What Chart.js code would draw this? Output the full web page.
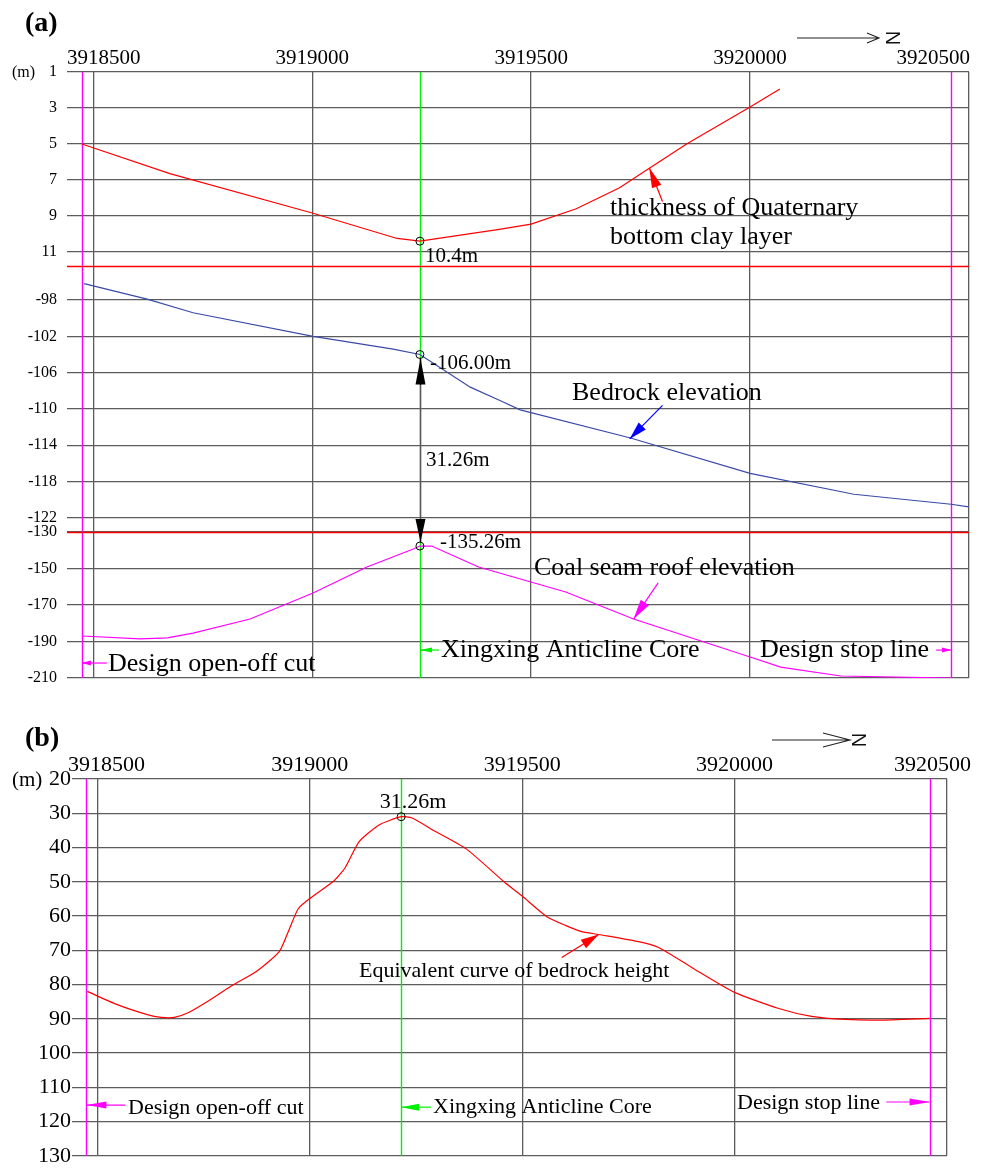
<!DOCTYPE html>
<html>
<head>
<meta charset="utf-8">
<script src="https://cdn.jsdelivr.net/npm/chart.js@4.4.0/dist/chart.umd.min.js"></script>
<style>
  body { margin: 0; background: #fff; }
  #chartA { position: absolute; left: 0; top: 0; }
  #chartB { position: absolute; left: 0; top: 700px; }
</style>
</head>
<body>
<canvas id="chartA" width="986" height="700"></canvas>
<canvas id="chartB" width="986" height="470"></canvas>
<script>
// northing axis (shared by both panels)
const xRange = [3918440, 3920500];
const northTicks = [3918500, 3919000, 3919500, 3920000, 3920500];
const openOffX = 3918474;
const stopLineX = 3920459;
const coreXa = 3919246;
const coreXb = 3919215;

// (a) thickness of Quaternary bottom clay layer (m)
const clayRange = [1, 11.78];
const clayTicks = [1, 3, 5, 7, 9, 11];
const clayX = [3918474, 3918675, 3919002, 3919194, 3919246, 3919427, 3919500, 3919603, 3919701, 3919770, 3919855, 3920000, 3920068];
const clayY = [5.0, 6.65, 8.85, 10.25, 10.4, 9.75, 9.45, 8.6, 7.45, 6.35, 5.0, 2.95, 1.95];
const clayMark = 10.4;

// (a) bedrock elevation (m)
const bedRange = [-123.56, -94.25];
const bedTicks = [-98, -102, -106, -110, -114, -118, -122];
const bedX = [3918479, 3918623, 3918728, 3919002, 3919185, 3919246, 3919361, 3919430, 3919475, 3919727, 3920000, 3920237, 3920459, 3920500];
const bedY = [-96.2, -97.9, -99.4, -102.0, -103.4, -104.0, -107.6, -109.1, -110.1, -113.2, -117.1, -119.4, -120.5, -120.8];
const bedMark = -104.0;

// (a) coal seam roof elevation (m)
const coalRange = [-210, -130];
const coalTicks = [-130, -150, -170, -190, -210];
const coalX = [3918474, 3918607, 3918669, 3918728, 3918858, 3919002, 3919125, 3919231, 3919246, 3919273, 3919380, 3919579, 3919734, 3920000, 3920070, 3920207, 3920459];
const coalY = [-187.0, -188.6, -188.0, -185.4, -177.7, -163.4, -149.2, -139.3, -137.7, -137.7, -149.2, -162.9, -177.7, -198.5, -204.0, -208.9, -210.0];
const coalMark = -137.7;

// (b) equivalent curve of bedrock height (m)
const equivRange = [20, 130];
const equivTicks = [20, 30, 40, 50, 60, 70, 80, 90, 100, 110, 120, 130];
const equivX = [3918476, 3918545, 3918615, 3918650, 3918681, 3918716, 3918756, 3918817, 3918874, 3918928, 3918951, 3918973, 3919003, 3919057, 3919083, 3919116, 3919163, 3919215, 3919241, 3919288, 3919368, 3919457, 3919499, 3919558, 3919603, 3919638, 3919680, 3919774, 3919821, 3919899, 3920000, 3920104, 3920181, 3920261, 3920339, 3920459];
const equivY = [82.0, 85.8, 88.7, 89.6, 89.6, 88.1, 85.2, 80.3, 76.2, 70.4, 64.0, 57.8, 54.6, 49.7, 45.9, 38.3, 33.4, 31.0, 31.4, 34.8, 40.4, 50.0, 54.1, 60.2, 62.8, 64.5, 65.4, 67.5, 69.2, 75.0, 82.3, 87.0, 89.3, 90.2, 90.4, 89.9];
const equivMark = 31.0;

const SERIF = "'Liberation Serif', 'Times New Roman', serif";
const SANS = "'Liberation Sans', Arial, sans-serif";
const GRID = '#5c5c5c';

function pts(xs, ys) {
  return xs.map((x, i) => ({ x: x, y: ys[i] }));
}

// force the ticks to exactly the listed values
function fixTicks(list) {
  return axis => { axis.ticks = list.map(v => ({ value: v })); };
}

function drawArrow(ctx, x1, y1, x2, y2, color, len, hw) {
  const ang = Math.atan2(y2 - y1, x2 - x1);
  ctx.strokeStyle = color;
  ctx.fillStyle = color;
  ctx.lineWidth = 1.2;
  ctx.beginPath(); ctx.moveTo(x1, y1); ctx.lineTo(x2, y2); ctx.stroke();
  const bx = x2 - len * Math.cos(ang), by = y2 - len * Math.sin(ang);
  const nx = -Math.sin(ang) * hw, ny = Math.cos(ang) * hw;
  ctx.beginPath();
  ctx.moveTo(x2, y2); ctx.lineTo(bx + nx, by + ny); ctx.lineTo(bx - nx, by - ny);
  ctx.closePath(); ctx.fill();
}

// extra drawing: marker lines, top tick labels, leaders, texts, north arrow
const decor = {
  id: 'decor',
  beforeDatasetsDraw(chart, args, o) {
    const { ctx, chartArea: a, scales } = chart;
    ctx.save();
    ctx.lineWidth = 1.4;
    o.vlines.forEach(v => {
      const px = Math.round(scales.x.getPixelForValue(v.x)) + 0.5;
      ctx.strokeStyle = v.color;
      ctx.beginPath(); ctx.moveTo(px, a.top); ctx.lineTo(px, a.bottom); ctx.stroke();
    });
    (o.redTops || []).forEach(id => {
      const y = Math.round(scales[id].top) + 0.5;
      ctx.strokeStyle = '#ff0000';
      ctx.beginPath(); ctx.moveTo(a.left, y); ctx.lineTo(a.right, y); ctx.stroke();
    });
    if (o.dim) {
      const d = o.dim;
      const px = Math.round(scales.x.getPixelForValue(d.x)) + 0.5;
      const yt = scales[d.top[1]].getPixelForValue(d.top[0]) + 4;
      const yb = scales[d.bottom[1]].getPixelForValue(d.bottom[0]) - 4;
      ctx.strokeStyle = '#555';
      ctx.beginPath(); ctx.moveTo(px, yt); ctx.lineTo(px, yb); ctx.stroke();
      drawArrow(ctx, px, yt + 26, px, yt, '#000', 26, 5);
      drawArrow(ctx, px, yb - 23, px, yb, '#000', 23, 5);
    }
    ctx.restore();
  },
  afterDraw(chart, args, o) {
    const { ctx, chartArea: a, scales } = chart;
    ctx.save();
    // northing labels along the top
    const xl = o.xLabels;
    ctx.font = xl.size + 'px ' + SERIF;
    ctx.fillStyle = '#000';
    ctx.textAlign = 'center';
    ctx.textBaseline = 'middle';
    northTicks.forEach(v => {
      const label = String(v);
      const w = ctx.measureText(label).width;
      let cx = scales.x.getPixelForValue(v);
      cx = Math.max(cx, a.left + xl.padL + w / 2);
      cx = Math.min(cx, a.right + xl.padR - w / 2);
      ctx.fillText(label, cx, xl.y);
    });
    // leaders
    o.arrows.forEach(r => {
      const ys = scales[r.axis];
      drawArrow(ctx,
        scales.x.getPixelForValue(r.from[0]), ys.getPixelForValue(r.from[1]),
        scales.x.getPixelForValue(r.to[0]), ys.getPixelForValue(r.to[1]),
        r.color, r.len, r.hw);
    });
    // texts
    o.texts.forEach(t => {
      ctx.font = (t.bold ? 'bold ' : '') + t.size + 'px ' + SERIF;
      ctx.fillStyle = '#000';
      ctx.textAlign = t.align || 'left';
      ctx.textBaseline = 'middle';
      ctx.fillText(t.t, t.x, t.y);
    });
    // north arrow
    const n = o.north;
    ctx.strokeStyle = '#222';
    ctx.lineWidth = 1.1;
    ctx.beginPath();
    ctx.moveTo(n.x1, n.y); ctx.lineTo(n.x2, n.y);
    ctx.moveTo(n.x2 - n.head, n.y - n.hw); ctx.lineTo(n.x2, n.y); ctx.lineTo(n.x2 - n.head, n.y + n.hw);
    ctx.stroke();
    ctx.translate(n.nx, n.y);
    ctx.rotate(Math.PI / 2);
    ctx.font = '20px ' + SANS;
    ctx.fillStyle = '#111';
    ctx.textAlign = 'center';
    ctx.textBaseline = 'middle';
    ctx.fillText('N', 0, 1);
    ctx.restore();
  }
};

function xAxis(height) {
  return {
    type: 'linear', position: 'top', min: xRange[0], max: xRange[1],
    afterBuildTicks: fixTicks(northTicks),
    afterFit: s => { s.height = height; },
    grid: { color: GRID, lineWidth: 1.3, drawTicks: false },
    border: { display: false },
    ticks: { display: false, autoSkip: false }
  };
}

function yAxis(range, ticks, width, size, pad, extra) {
  return Object.assign({
    type: 'linear', position: 'left', min: range[0], max: range[1],
    afterBuildTicks: fixTicks(ticks),
    afterFit: s => { s.width = width; },
    grid: { color: GRID, lineWidth: 1.3, drawTicks: false },
    border: { display: false },
    ticks: { color: '#000', font: { family: SERIF, size: size }, padding: pad, autoSkip: false }
  }, extra);
}

function lineSet(xs, ys, axis, color, tension) {
  return {
    data: pts(xs, ys), yAxisID: axis, showLine: true, borderColor: color,
    backgroundColor: color, borderWidth: 1.2, pointRadius: 0, tension: tension || 0, order: 2
  };
}

function markSet(x, y, axis) {
  return {
    data: [{ x: x, y: y }], yAxisID: axis, showLine: false, pointRadius: 4,
    borderColor: '#000', backgroundColor: 'rgba(0,0,0,0)',
    pointBorderColor: '#000', pointBackgroundColor: 'rgba(0,0,0,0)', pointBorderWidth: 1, order: 1
  };
}

new Chart(document.getElementById('chartA'), {
  type: 'scatter',
  data: {
    datasets: [
      lineSet(clayX, clayY, 'y1', '#ff0000'),
      lineSet(bedX, bedY, 'y2', '#3a4aa8'),
      lineSet(coalX, coalY, 'y3', '#ff00ff'),
      markSet(coreXa, clayMark, 'y1'),
      markSet(coreXa, bedMark, 'y2'),
      markSet(coreXa, coalMark, 'y3')
    ]
  },
  options: {
    responsive: false,
    animation: false,
    layout: { padding: { left: 0, top: 0, right: 17, bottom: 22 } },
    scales: {
      x: xAxis(72),
      y1: yAxis(clayRange, clayTicks, 67, 16, 10, { stack: 'a', stackWeight: 194, weight: 3, reverse: true }),
      y2: yAxis(bedRange, bedTicks, 67, 16, 10, { stack: 'a', stackWeight: 266, weight: 2 }),
      y3: yAxis(coalRange, coalTicks, 67, 16, 10, { stack: 'a', stackWeight: 146, weight: 1 })
    },
    plugins: {
      legend: { display: false },
      tooltip: { enabled: false },
      decor: {
        vlines: [
          { x: openOffX, color: '#ff00ff' },
          { x: stopLineX, color: '#ff00ff' },
          { x: coreXa, color: '#00ee00' }
        ],
        redTops: ['y2', 'y3'],
        dim: { x: coreXa, top: [bedMark, 'y2'], bottom: [coalMark, 'y3'] },
        xLabels: { size: 21, y: 58, padL: 0, padR: 1 },
        arrows: [
          { axis: 'y1', from: [3919800, 8.2], to: [3919770, 6.33], color: '#ff0000', len: 20, hw: 5 },
          { axis: 'y2', from: [3919800, -109.6], to: [3919725, -113.3], color: '#0000ff', len: 18, hw: 5 },
          { axis: 'y3', from: [3919790, -157.9], to: [3919734, -177.7], color: '#ff00ff', len: 20, hw: 5 },
          { axis: 'y3', from: [3918531, -201.8], to: [openOffX, -201.8], color: '#ff00ff', len: 9, hw: 2.5 },
          { axis: 'y3', from: [3919290, -194.7], to: [coreXa, -194.7], color: '#00ee00', len: 12, hw: 2.5 },
          { axis: 'y3', from: [3920425, -194.7], to: [stopLineX, -194.7], color: '#ff00ff', len: 9, hw: 2.5 }
        ],
        texts: [
          { t: '(a)', x: 25, y: 24, size: 28, bold: true },
          { t: '(m)', x: 12, y: 73, size: 16 },
          { t: '10.4m', x: 425, y: 256, size: 21 },
          { t: '-106.00m', x: 430, y: 363, size: 21 },
          { t: '31.26m', x: 426, y: 460, size: 21 },
          { t: '-135.26m', x: 440, y: 542, size: 21 },
          { t: 'thickness of Quaternary', x: 610, y: 208, size: 26 },
          { t: 'bottom clay layer', x: 610, y: 237, size: 26 },
          { t: 'Bedrock elevation', x: 572, y: 393, size: 26 },
          { t: 'Coal seam roof elevation', x: 534, y: 568, size: 26 },
          { t: 'Design open-off cut', x: 108, y: 664, size: 26 },
          { t: 'Xingxing Anticline Core', x: 441, y: 650, size: 26 },
          { t: 'Design stop line', x: 760, y: 650, size: 26 }
        ],
        north: { x1: 797, x2: 879, y: 38, head: 12, hw: 5, nx: 893 }
      }
    }
  },
  plugins: [decor]
});

new Chart(document.getElementById('chartB'), {
  type: 'scatter',
  data: {
    datasets: [
      lineSet(equivX, equivY, 'y', '#ff0000', 0.2),
      markSet(coreXb, equivMark, 'y')
    ]
  },
  options: {
    responsive: false,
    animation: false,
    layout: { padding: { left: 0, top: 0, right: 39, bottom: 13 } },
    scales: {
      x: xAxis(79),
      y: yAxis(equivRange, equivTicks, 72, 22, 1, { reverse: true })
    },
    plugins: {
      legend: { display: false },
      tooltip: { enabled: false },
      decor: {
        vlines: [
          { x: openOffX, color: '#ff00ff' },
          { x: stopLineX, color: '#ff00ff' },
          { x: coreXb, color: '#00ee00' }
        ],
        xLabels: { size: 22, y: 65, padL: -4, padR: 24 },
        arrows: [
          { axis: 'y', from: [3919593, 72.1], to: [3919680, 65.4], color: '#ff0000', len: 18, hw: 5 },
          { axis: 'y', from: [3918566, 115.2], to: [openOffX, 115.2], color: '#ff00ff', len: 20, hw: 3.5 },
          { axis: 'y', from: [3919285, 115.8], to: [coreXb, 115.8], color: '#00ee00', len: 18, hw: 3.5 },
          { axis: 'y', from: [3920357, 114.3], to: [stopLineX, 114.3], color: '#ff00ff', len: 20, hw: 3.5 }
        ],
        texts: [
          { t: '(b)', x: 25, y: 39, size: 28, bold: true },
          { t: '(m)', x: 12, y: 80, size: 21 },
          { t: '31.26m', x: 413, y: 102, size: 22, align: 'center' },
          { t: 'Equivalent curve of bedrock height', x: 359, y: 271, size: 22 },
          { t: 'Design open-off cut', x: 128, y: 408, size: 22 },
          { t: 'Xingxing Anticline Core', x: 433, y: 407, size: 22 },
          { t: 'Design stop line', x: 737, y: 403, size: 22 }
        ],
        north: { x1: 772, x2: 850, y: 40, head: 27, hw: 7, nx: 859 }
      }
    }
  },
  plugins: [decor]
});
</script>
</body>
</html>
